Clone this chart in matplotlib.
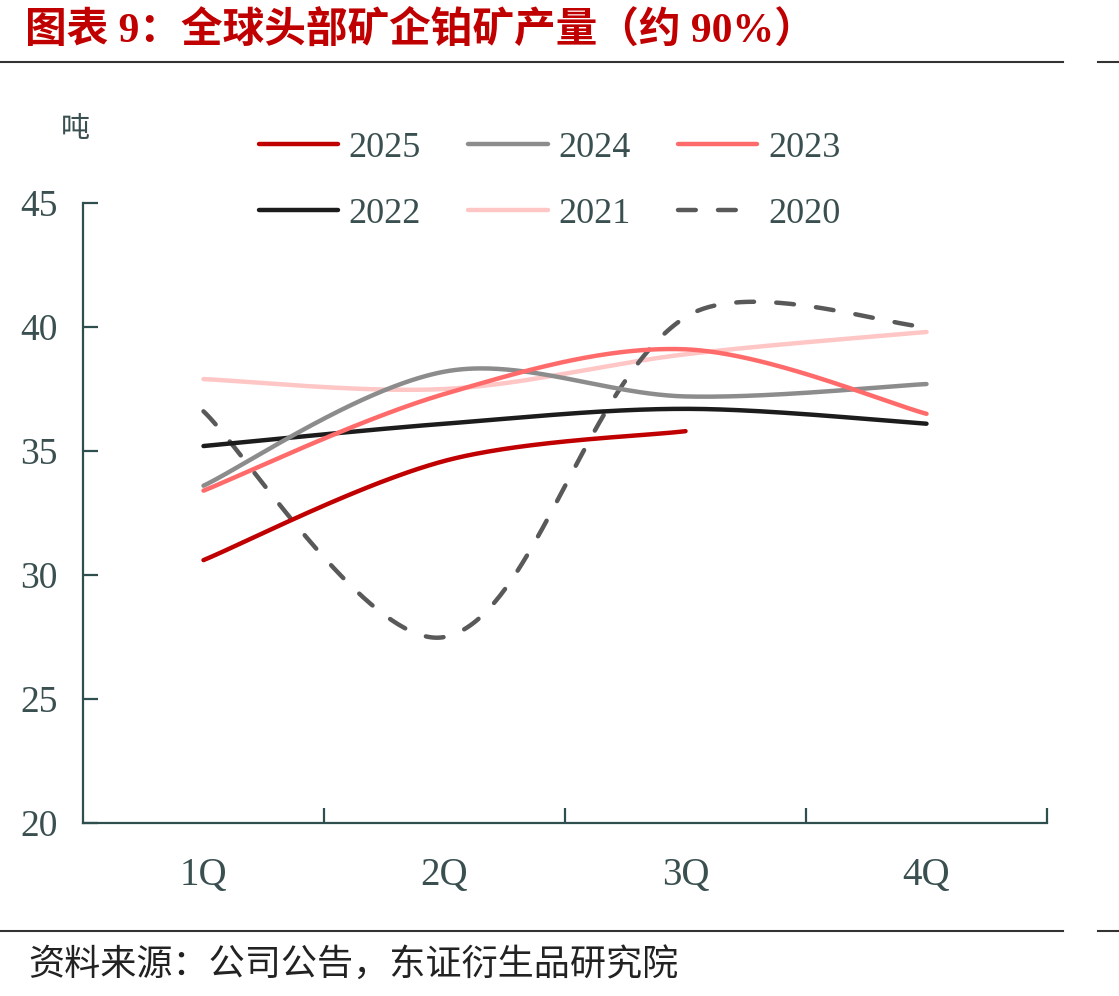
import numpy as np
import matplotlib
matplotlib.use("Agg")
import matplotlib.pyplot as plt

plt.rcParams['font.family'] = ['Liberation Serif', 'Noto Sans CJK SC']

# 数据（吨）
quarters = ['1Q', '2Q', '3Q', '4Q']
y2025 = [30.6, 34.6, 35.8]
y2024 = [33.6, 38.2, 37.2, 37.7]
y2023 = [33.4, 37.3, 39.1, 36.5]
y2022 = [35.2, 36.1, 36.7, 36.1]
y2021 = [37.9, 37.5, 38.9, 39.8]
y2020 = [36.6, 27.5, 40.4, 40.0]

C_AX = '#2f4f4f'
C_TXT = '#3a4f4f'

# 屏幕比例（像素/单位），用于平滑时的段长
SX, SY = 241.0, 24.8


def smooth(xs, ys, n=80):
    """类 Excel 平滑曲线：Bezier，切线按相邻段长缩放"""
    p = np.column_stack([xs, ys]).astype(float)
    scale = np.array([SX, SY])
    m = len(p)
    tang = []
    for i in range(m):
        if i == 0 or i == m - 1:
            a, b = p[max(i - 1, 0)], p[min(i + 1, m - 1)]
            tang.append(((b - a) / 6, (b - a) / 6))
            continue
        d1 = np.hypot(*((p[i] - p[i - 1]) * scale))
        d2 = np.hypot(*((p[i + 1] - p[i]) * scale))
        v = p[i + 1] - p[i - 1]
        tang.append((v * d1 / (d1 + d2) / 3, v * d2 / (d1 + d2) / 3))
    out = []
    for i in range(m - 1):
        c1 = p[i] + tang[i][1]
        c2 = p[i + 1] - tang[i + 1][0]
        t = np.linspace(0, 1, n)[:, None]
        seg = ((1 - t) ** 3 * p[i] + 3 * (1 - t) ** 2 * t * c1
               + 3 * (1 - t) * t ** 2 * c2 + t ** 3 * p[i + 1])
        out.append(seg if i == 0 else seg[1:])
    s = np.vstack(out)
    return s[:, 0], s[:, 1]


fig = plt.figure(figsize=(11.19, 9.96), dpi=100)
ax = fig.add_axes([83 / 1119, 1 - 823 / 996, 964 / 1119, 620 / 996])

series = [
    ('2025', y2025, '#c00000', '-'),
    ('2024', y2024, '#8c8c8c', '-'),
    ('2023', y2023, '#ff6b6b', '-'),
    ('2022', y2022, '#1c1c1c', '-'),
    ('2021', y2021, '#ffc6c6', '-'),
    ('2020', y2020, '#595959', (0, (4, 5))),
]
order = ['2021', '2020', '2022', '2024', '2023', '2025']
handles = {}
for name, vals, col, ls in series:
    xs, ys = smooth(np.arange(len(vals)), vals)
    ln, = ax.plot(xs, ys, color=col, lw=3.2, ls=ls, solid_capstyle='round',
                  dash_capstyle='round', zorder=3 + order.index(name))
    handles[name] = ln

ax.set_xlim(-0.5, 3.5)
ax.set_ylim(20, 45)
ax.set_yticks(range(20, 46, 5))
ax.set_xticks([0.5, 1.5, 2.5, 3.5])
ax.set_xticklabels([])
for i, q in enumerate(quarters):
    ax.text(i, -0.085, q, transform=ax.get_xaxis_transform(), ha='center', va='center',
            fontsize=28, color=C_TXT)
for s in ['top', 'right']:
    ax.spines[s].set_visible(False)
for s in ['left', 'bottom']:
    ax.spines[s].set_color(C_AX)
    ax.spines[s].set_linewidth(1.6)
ax.tick_params(axis='both', direction='in', length=11, width=1.6, color=C_AX)
ax.tick_params(axis='y', labelsize=27, labelcolor=C_TXT, pad=18)

fig.text(75 / 1119, 1 - 130 / 996, '吨', fontsize=21, color=C_TXT, ha='center', va='center')

keys = ['2025', '2022', '2024', '2021', '2023', '2020']
leg = fig.legend([handles[k] for k in keys], keys,
                 ncol=3, frameon=False, fontsize=26, labelcolor=C_TXT,
                 loc='upper left', bbox_to_anchor=(226 / 1119, 1 - 99 / 996),
                 handlelength=2.2, handletextpad=0.3, columnspacing=1.3, labelspacing=0.9)

fig.text(25 / 1119, 1 - 31 / 996, '图表 9：全球头部矿企铂矿产量（约 90%）', fontsize=30,
         fontweight='bold', color='#c00000', ha='left', va='center')
fig.add_artist(plt.Line2D([0, 1063 / 1119], [1 - 62 / 996] * 2, color='#333333', lw=1.5))
fig.add_artist(plt.Line2D([1098 / 1119, 1], [1 - 62 / 996] * 2, color='#333333', lw=1.5))
fig.add_artist(plt.Line2D([0, 1063 / 1119], [1 - 931 / 996] * 2, color='#333333', lw=1.5))
fig.add_artist(plt.Line2D([1098 / 1119, 1], [1 - 931 / 996] * 2, color='#333333', lw=1.5))
fig.text(28 / 1119, 1 - 965 / 996, '资料来源：公司公告，东证衍生品研究院', fontsize=26,
         color='#222222', ha='left', va='center')

fig.savefig('out.png', dpi=100)
